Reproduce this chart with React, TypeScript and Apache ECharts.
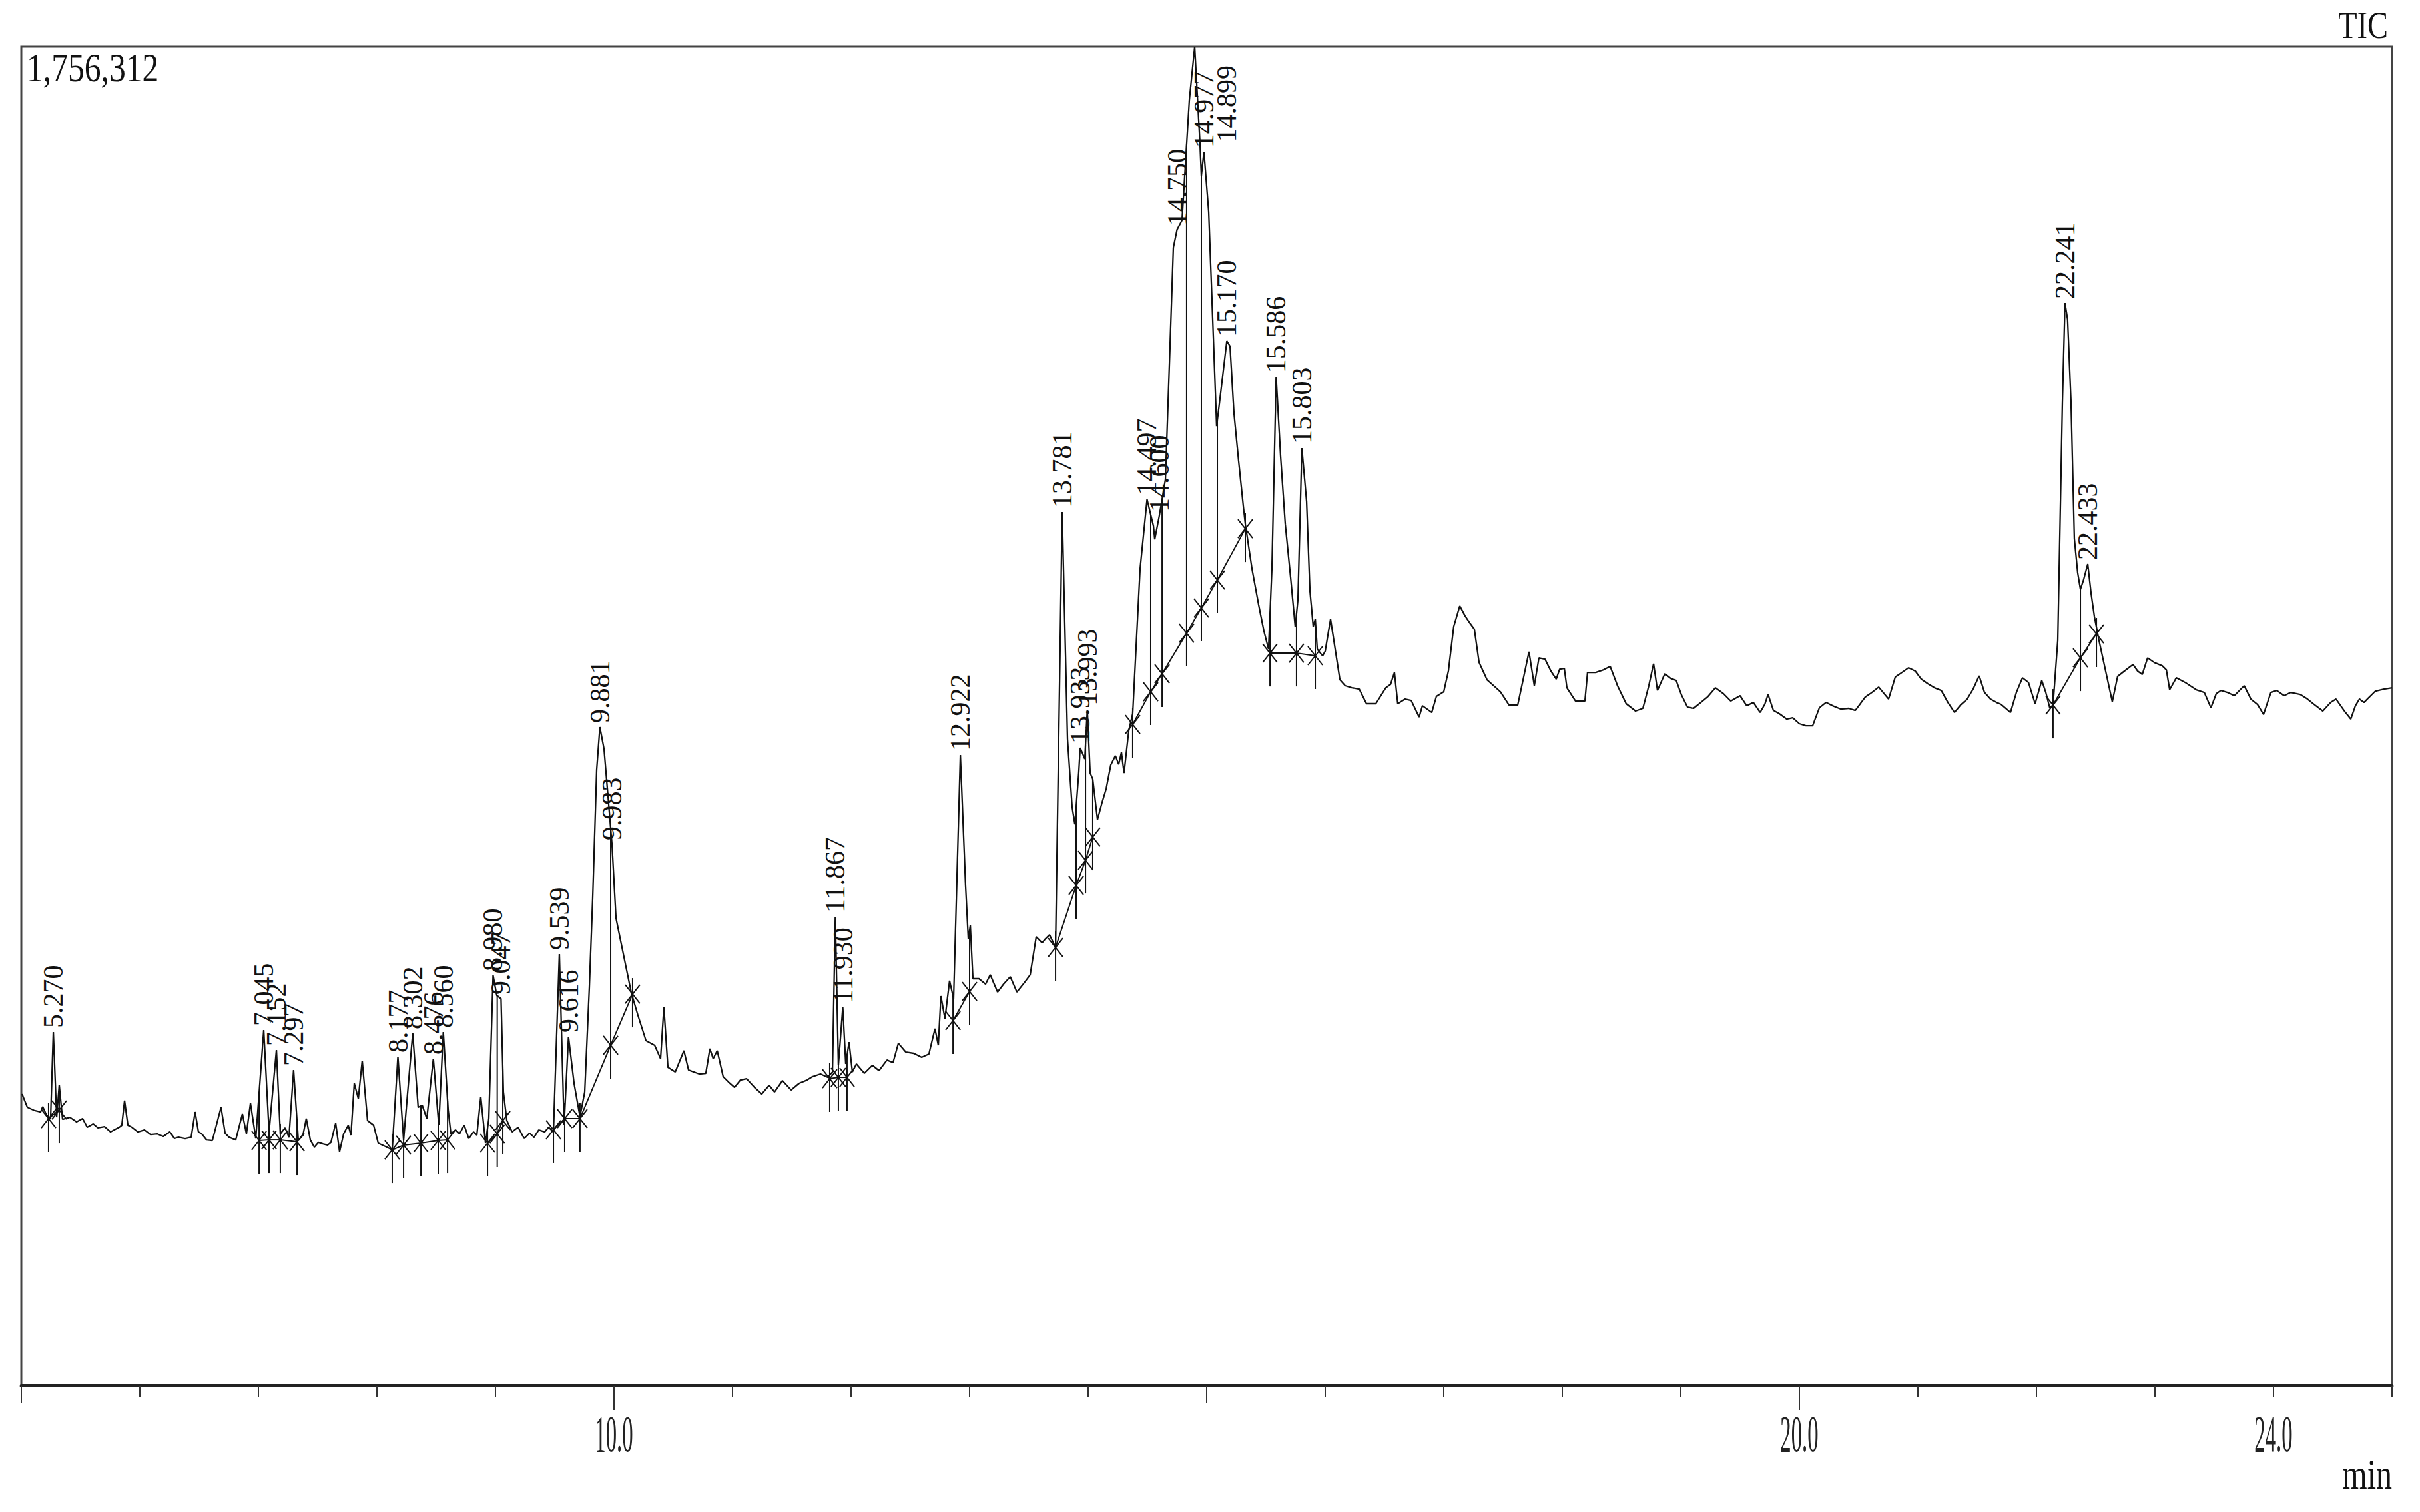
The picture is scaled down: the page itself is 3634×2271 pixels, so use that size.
import React, { useEffect, useRef } from 'react';
import * as echarts from 'echarts';

// ---------- data ----------
const FULL_SCALE = 1756312;
const X_MIN = 5;
const X_MAX = 25;
const TICK_LABELS = [10, 20, 24];
const LONG_TICKS = [10, 20];
const MID_TICKS = [5, 15];

// retention time (min), intensity (counts)
const TRACE: [number, number][] = [
  [5.006,382500],[5.051,365000],[5.112,360700],[5.163,358900],[5.180,365900],[5.213,354600],[5.247,350200],[5.270,463700],[5.298,351900],[5.320,393900],
  [5.348,349300],[5.410,351900],[5.466,345800],[5.517,350200],[5.556,338800],[5.607,343200],[5.646,338000],[5.702,339700],[5.753,332700],[5.826,338800],
  [5.848,341500],[5.871,373800],[5.899,341500],[5.933,338800],[5.983,332700],[6.039,335300],[6.090,329200],[6.146,330100],[6.197,326600],[6.253,332700],
  [6.292,324000],[6.326,325700],[6.382,324000],[6.433,325700],[6.466,358900],[6.494,332700],[6.522,330100],[6.562,322200],[6.612,321400],[6.685,365000],
  [6.719,331000],[6.753,325700],[6.809,322200],[6.865,356300],[6.899,330100],[6.933,370300],[6.978,324000],[7.045,466300],[7.090,332700],[7.152,440100],
  [7.185,330100],[7.225,338000],[7.258,325700],[7.297,413900],[7.337,321400],[7.376,328400],[7.404,350200],[7.438,322200],[7.472,312600],[7.506,318800],
  [7.545,317000],[7.584,315300],[7.612,318800],[7.652,344100],[7.685,306500],[7.719,330100],[7.758,341500],[7.781,328400],[7.809,396500],[7.843,376400],
  [7.876,426200],[7.921,347600],[7.972,341500],[8.011,317900],[8.084,312600],[8.129,309100],[8.177,431400],[8.225,322200],[8.302,462000],[8.348,365000],
  [8.382,367700],[8.421,350200],[8.476,428800],[8.522,341500],[8.560,463700],[8.601,361500],[8.624,330100],[8.663,335300],[8.697,330100],[8.736,341500],
  [8.775,324000],[8.815,332700],[8.843,328400],[8.876,379000],[8.916,317900],[8.944,350200],[8.980,538000],[9.011,511800],[9.047,507400],[9.067,385100],
  [9.096,347600],[9.140,332700],[9.191,338800],[9.242,324000],[9.287,331000],[9.326,325700],[9.365,335300],[9.416,332700],[9.449,338800],[9.489,332700],
  [9.539,565900],[9.579,341500],[9.616,457600],[9.663,396500],[9.713,352800],[9.753,385100],[9.792,522200],[9.820,638400],[9.854,807800],[9.881,863700],
  [9.916,834900],[9.952,768500],[9.983,710000],[10.017,613100],[10.079,565900],[10.146,515200],[10.202,485600],[10.270,452400],[10.343,446300],[10.393,428800],
  [10.421,496000],[10.455,417400],[10.517,411300],[10.590,439300],[10.629,413900],[10.719,408700],[10.775,409600],[10.809,441900],[10.837,428800],[10.871,439300],
  [10.921,405200],[10.966,398200],[11.017,391200],[11.067,400800],[11.118,402600],[11.185,391200],[11.247,382500],[11.309,393900],[11.354,385100],[11.421,400000],
  [11.494,387700],[11.562,396500],[11.629,400800],[11.674,405200],[11.742,408700],[11.803,404300],[11.843,411300],[11.867,614800],[11.893,420100],[11.930,496000],
  [11.955,421800],[11.983,450600],[12.011,411300],[12.045,421800],[12.112,409600],[12.180,420100],[12.236,413100],[12.303,427000],[12.354,423600],[12.399,448900],
  [12.461,437500],[12.528,435800],[12.596,430500],[12.657,434900],[12.708,468100],[12.736,446300],[12.758,510900],[12.792,481200],[12.831,531000],[12.865,507400],
  [12.922,827000],[12.966,655900],[12.989,586000],[13.006,603400],[13.028,533600],[13.079,533600],[13.135,526600],[13.174,538800],[13.236,516100],[13.287,526600],
  [13.343,536200],[13.399,516100],[13.461,528300],[13.511,538800],[13.562,588600],[13.612,580700],[13.640,586000],[13.674,591200],[13.725,574600],[13.781,1145800],
  [13.826,848000],[13.865,758900],[13.888,736200],[13.921,804300],[13.933,836600],[13.972,821800],[13.993,886400],[14.017,803400],[14.039,795600],[14.079,742300],
  [14.118,765000],[14.152,782500],[14.191,813900],[14.230,826100],[14.258,814800],[14.281,830500],[14.303,803400],[14.343,859300],[14.376,881200],[14.438,1070700],
  [14.497,1162400],[14.551,1127400],[14.562,1110000],[14.600,1140500],[14.652,1188600],[14.691,1364100],[14.719,1492500],[14.750,1516000],[14.792,1528300],[14.854,1686400],
  [14.899,1756312],[14.944,1627800],[14.955,1586800],[14.977,1618200],[15.017,1539600],[15.045,1422600],[15.084,1258400],[15.118,1302100],[15.170,1370200],[15.197,1363200],
  [15.230,1275900],[15.270,1212100],[15.309,1153600],[15.326,1130000],[15.382,1071500],[15.438,1024400],[15.483,989500],[15.522,965900],[15.551,1075000],[15.586,1323000],
  [15.624,1218200],[15.663,1130000],[15.708,1060200],[15.747,995600],[15.770,1031400],[15.803,1229600],[15.843,1159700],[15.871,1042700],[15.899,995600],[15.916,1005200],
  [15.933,965900],[15.978,957100],[16.000,963300],[16.045,1005200],[16.084,965900],[16.124,925700],[16.169,917900],[16.225,915200],[16.287,913500],[16.348,894300],
  [16.427,894300],[16.511,915200],[16.551,919600],[16.584,935300],[16.612,894300],[16.674,900400],[16.725,898600],[16.792,876800],[16.820,891600],[16.899,882900],
  [16.938,903900],[17.000,910000],[17.039,937100],[17.084,995600],[17.135,1022600],[17.180,1009500],[17.225,999100],[17.258,992100],[17.298,948400],[17.365,925700],
  [17.421,917900],[17.478,910000],[17.551,892500],[17.624,892500],[17.674,929200],[17.719,962400],[17.764,917900],[17.803,954500],[17.854,952800],[17.904,937100],
  [17.949,926600],[17.978,939700],[18.017,940600],[18.039,915200],[18.112,897800],[18.191,897800],[18.213,935300],[18.281,935300],[18.348,938800],[18.404,943200],
  [18.466,917900],[18.539,894300],[18.618,884700],[18.680,888200],[18.730,917900],[18.770,946700],[18.803,911700],[18.865,933600],[18.916,927400],[18.961,924800],
  [19.006,905600],[19.056,889900],[19.107,888200],[19.169,896000],[19.230,903900],[19.292,915200],[19.360,907400],[19.421,897800],[19.500,904800],[19.556,891600],
  [19.612,896000],[19.669,882900],[19.708,893400],[19.736,906500],[19.781,885500],[19.831,881200],[19.893,874200],[19.944,875900],[20.000,868100],[20.056,865400],
  [20.112,865400],[20.169,889000],[20.225,896000],[20.281,891600],[20.348,887300],[20.416,888200],[20.472,885500],[20.556,903000],[20.612,909100],[20.669,916100],
  [20.753,900400],[20.809,929200],[20.865,935300],[20.921,941400],[20.978,937100],[21.028,926600],[21.084,920500],[21.140,915200],[21.197,911700],[21.253,896000],
  [21.309,882900],[21.365,893400],[21.416,900400],[21.466,913500],[21.517,930900],[21.562,909100],[21.612,900400],[21.663,896000],[21.702,893400],[21.781,882900],
  [21.831,909100],[21.882,928300],[21.933,922200],[21.989,894300],[22.045,924800],[22.079,909100],[22.112,889000],[22.140,892500],[22.180,977200],[22.219,1289000],
  [22.241,1420000],[22.263,1398200],[22.292,1289000],[22.320,1110800],[22.348,1066300],[22.371,1044500],[22.399,1057600],[22.433,1077700],[22.461,1039200],[22.489,1008700],
  [22.528,977200],[22.590,932700],[22.640,896900],[22.685,930100],[22.742,937100],[22.815,945800],[22.854,937100],[22.893,932700],[22.938,954500],[22.994,948400],
  [23.062,944000],[23.096,938800],[23.124,912600],[23.180,928300],[23.264,921300],[23.348,912600],[23.416,909100],[23.472,889000],[23.517,907400],[23.556,911700],
  [23.612,909100],[23.669,904800],[23.753,917900],[23.809,900400],[23.865,893400],[23.916,880300],[23.978,909100],[24.028,911700],[24.090,904800],[24.146,909100],
  [24.225,906500],[24.287,900400],[24.343,893400],[24.416,884700],[24.483,896000],[24.528,900400],[24.567,891600],[24.607,882900],[24.652,874200],[24.691,891600],
  [24.725,900400],[24.764,896000],[24.820,904800],[24.860,910900],[24.933,913500],[25.000,915200],
];

const PEAK_LABELS = [
  '5.270', '7.045', '7.152', '7.297', '8.177', '8.302', '8.476', '8.560', '8.980', '9.047',
  '9.539', '9.616', '9.881', '9.983', '11.867', '11.930', '12.922', '13.781', '13.933', '13.993',
  '14.497', '14.600', '14.750', '14.899', '14.977', '15.170', '15.586', '15.803', '22.241', '22.433',
];

// integration baselines: chains of [time, intensity] points
const BASELINES: [number, number][][] = [
  [[5.230, 350200], [5.320, 361500]],
  [[7.006, 321400], [7.090, 322200], [7.185, 322200], [7.326, 319600]],
  [[8.129, 309100], [8.225, 315300], [8.371, 317900], [8.517, 321400], [8.596, 322200]],
  [[8.933, 317900], [9.015, 330100], [9.062, 347600]],
  [[9.489, 335400], [9.584, 350200], [9.713, 350200], [9.972, 446300], [10.157, 513500]],
  [[11.820, 402600], [11.893, 404300], [11.966, 404300]],
  [[12.860, 478600], [13.000, 517000]],
  [[13.725, 574600], [13.899, 655900], [13.978, 689000], [14.039, 719600]],
  [[14.376, 867200], [14.528, 910000], [14.624, 933600], [14.831, 986800], [14.955, 1020000], [15.090, 1056700], [15.326, 1123900]],
  [[15.534, 960600], [15.758, 960600], [15.916, 957200]],
  [[22.140, 892500], [22.371, 954500], [22.506, 986000]],
];

// ---------- helpers ----------
function traceAt(t: number): number {
  if (t <= TRACE[0][0]) return TRACE[0][1];
  for (let i = 1; i < TRACE.length; i++) {
    const [t1, v1] = TRACE[i];
    if (t <= t1) {
      const [t0, v0] = TRACE[i - 1];
      return v0 + ((v1 - v0) * (t - t0)) / (t1 - t0);
    }
  }
  return TRACE[TRACE.length - 1][1];
}

const INK = '#111';
const SERIF = '"Liberation Serif", "Times New Roman", serif';
const LABEL_SIZE = 42;

function textLength(s: string, size: number): number {
  let w = 0;
  for (const ch of s) w += ch === '.' || ch === ',' ? 0.25 : 0.5;
  return w * size;
}

function seg(x1: number, y1: number, x2: number, y2: number, w = 2) {
  return { type: 'line', shape: { x1, y1, x2, y2 }, style: { stroke: INK, lineWidth: w } };
}

export default function App() {
  const ref = useRef<HTMLDivElement>(null);

  useEffect(() => {
    if (!ref.current) return;
    const chart = echarts.init(ref.current, null, { renderer: 'svg' });

    const markerData: number[][] = [];
    BASELINES.forEach((chain, c) => chain.forEach((p, k) => markerData.push([p[0], p[1], c, k])));

    const peakData = PEAK_LABELS.map((l) => {
      const t = parseFloat(l);
      return [t, traceAt(t)];
    });

    const baseAxis = {
      type: 'value',
      min: X_MIN,
      max: X_MAX,
      gridIndex: 0,
      position: 'bottom',
      splitLine: { show: false },
    };

    const option: any = {
      animation: false,
      backgroundColor: '#ffffff',
      grid: {
        left: 32,
        right: 42,
        top: 70,
        bottom: 190,
        show: true,
        borderColor: '#444',
        borderWidth: 3,
        backgroundColor: 'transparent',
      },
      xAxis: [
        {
          ...baseAxis,
          interval: 1,
          axisLine: { show: true, onZero: false, lineStyle: { color: '#222', width: 5 } },
          axisTick: { show: true, length: 17, lineStyle: { color: '#333', width: 2 } },
          axisLabel: { show: false },
        },
        {
          ...baseAxis,
          interval: 1,
          axisLine: { show: false, onZero: false },
          axisTick: { show: true, customValues: LONG_TICKS, length: 37, lineStyle: { color: '#333', width: 2 } },
          axisLabel: { show: false },
        },
        {
          ...baseAxis,
          interval: 1,
          axisLine: { show: false, onZero: false },
          axisTick: { show: true, customValues: MID_TICKS, length: 26, lineStyle: { color: '#333', width: 2 } },
          axisLabel: { show: false },
        },
      ],
      yAxis: {
        type: 'value',
        min: 0,
        max: FULL_SCALE,
        show: false,
        splitLine: { show: false },
      },
      series: [
        {
          type: 'line',
          name: 'TIC',
          xAxisIndex: 0,
          data: TRACE,
          showSymbol: false,
          symbol: 'none',
          silent: true,
          clip: true,
          z: 2,
          lineStyle: { color: INK, width: 2.3 },
        },
        {
          type: 'custom',
          name: 'baselines',
          xAxisIndex: 0,
          silent: true,
          clip: false,
          z: 3,
          dimensions: ['t', 'v', 'c', 'k'],
          encode: { x: 't', y: 'v' },
          data: markerData,
          renderItem: (params: any, api: any) => {
            const t = api.value(0);
            const v = api.value(1);
            const c = api.value(2);
            const k = api.value(3);
            const [bx, by] = api.coord([t, v]);
            const ty = api.coord([t, traceAt(t)])[1];
            const chain = BASELINES[c];
            const children: any[] = [];
            if (k < chain.length - 1) {
              const [nx, ny] = api.coord(chain[k + 1]);
              children.push(seg(bx, by, nx, ny));
            }
            children.push(seg(bx, Math.min(ty, by - 24), bx, by + 50));
            children.push(seg(bx - 11, by - 14, bx + 11, by + 14));
            children.push(seg(bx - 11, by + 14, bx + 11, by - 14));
            return { type: 'group', children };
          },
        },
        {
          type: 'custom',
          name: 'peak labels',
          xAxisIndex: 0,
          silent: true,
          clip: false,
          z: 4,
          data: peakData,
          renderItem: (params: any, api: any) => {
            const text = PEAK_LABELS[params.dataIndex];
            const [px, py] = api.coord([api.value(0), api.value(1)]);
            const len = textLength(text, LABEL_SIZE);
            const top = params.coordSys.y;
            let x = px;
            let y = py - 6;
            if (y - len < top) {
              y = top + len + 28;
              x = px + 48;
            }
            return {
              type: 'text',
              x,
              y,
              rotation: Math.PI / 2,
              style: {
                text,
                font: `${LABEL_SIZE}px ${SERIF}`,
                fill: INK,
                align: 'left',
                verticalAlign: 'middle',
                textAlign: 'left',
                textVerticalAlign: 'middle',
              },
            };
          },
        },
        {
          type: 'custom',
          name: 'time labels',
          xAxisIndex: 0,
          silent: true,
          clip: false,
          z: 4,
          data: TICK_LABELS.map((v) => [v, 0]),
          renderItem: (params: any, api: any) => {
            const v = api.value(0);
            const [px, py] = api.coord([v, 0]);
            return {
              type: 'text',
              x: px,
              y: py + 34,
              scaleX: 0.42,
              style: {
                text: v.toFixed(1),
                font: `78px ${SERIF}`,
                fill: '#222',
                align: 'center',
                verticalAlign: 'top',
                textAlign: 'center',
                textVerticalAlign: 'top',
              },
            };
          },
        },
      ],
      graphic: [
        {
          type: 'text',
          x: 40,
          y: 70,
          scaleX: 0.8,
          z: 10,
          style: {
            text: '1,756,312',
            font: `62px ${SERIF}`,
            fill: INK,
            align: 'left',
            verticalAlign: 'top',
            textAlign: 'left',
            textVerticalAlign: 'top',
          },
        },
        {
          type: 'text',
          x: 3586,
          y: 8,
          scaleX: 0.8,
          z: 10,
          style: {
            text: 'TIC',
            font: `58px ${SERIF}`,
            fill: INK,
            align: 'right',
            verticalAlign: 'top',
            textAlign: 'right',
            textVerticalAlign: 'top',
          },
        },
        {
          type: 'text',
          x: 3592,
          y: 2182,
          scaleX: 0.75,
          z: 10,
          style: {
            text: 'min',
            font: `64px ${SERIF}`,
            fill: INK,
            align: 'right',
            verticalAlign: 'top',
            textAlign: 'right',
            textVerticalAlign: 'top',
          },
        },
      ],
    };

    chart.setOption(option);
    return () => chart.dispose();
  }, []);

  return (
    <div
      ref={ref}
      style={{ position: 'fixed', left: 0, top: 0, width: 3634, height: 2271, background: '#ffffff' }}
    />
  );
}
